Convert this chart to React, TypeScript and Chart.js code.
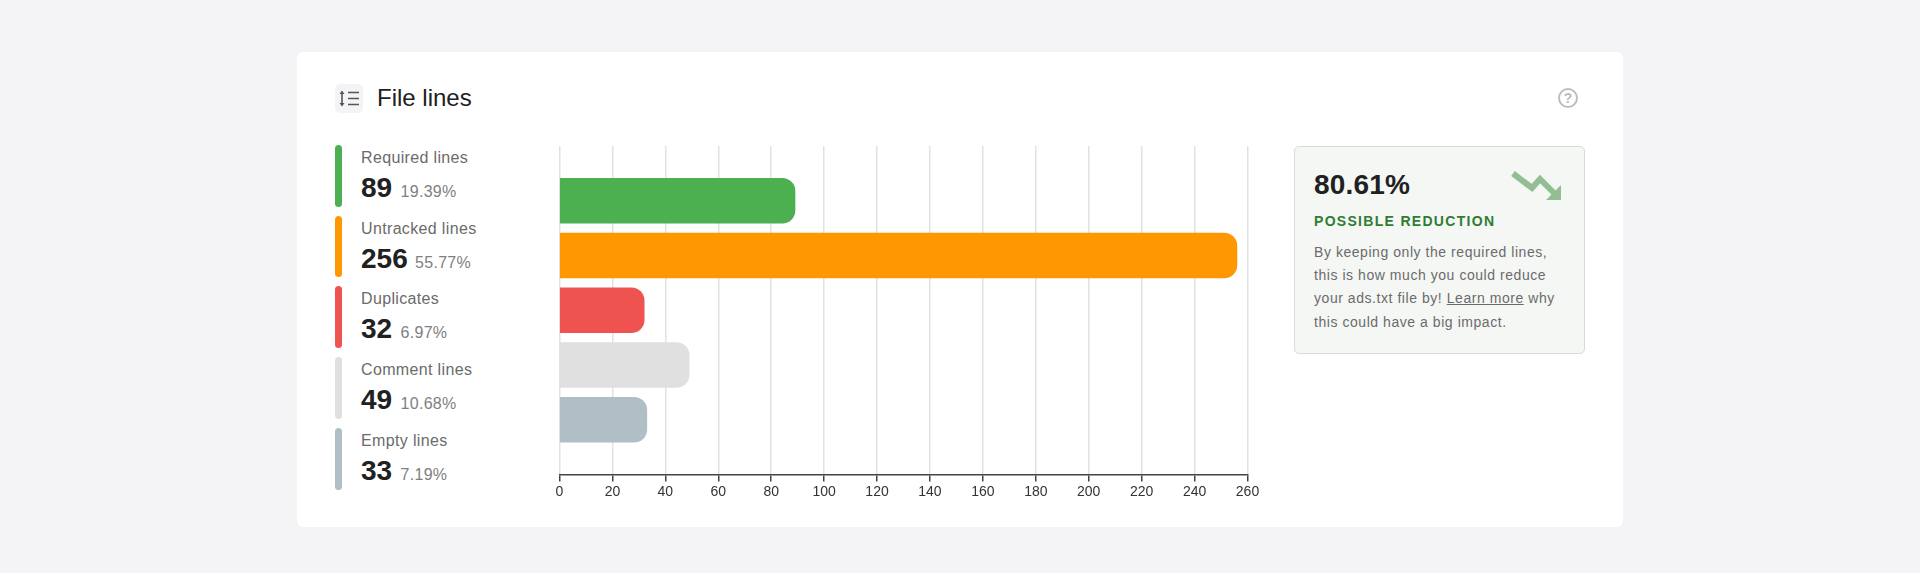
import React, { useEffect, useRef } from "react";
import { Chart, registerables } from "chart.js";

Chart.register(...registerables);

const categories = ["Required lines", "Untracked lines", "Duplicates", "Comment lines", "Empty lines"];
const values = [89, 256, 32, 49, 33];
const percents = ["19.39%", "55.77%", "6.97%", "10.68%", "7.19%"];
const colors = ["#4caf50", "#ff9800", "#ef5350", "#e0e0e0", "#b0bec5"];
const xMax = 260;
const xStep = 20;

const FONT = '"Liberation Sans", Arial, Helvetica, sans-serif';

const abs = (left: number, top: number, extra: React.CSSProperties = {}): React.CSSProperties => ({
  position: "absolute",
  left,
  top,
  whiteSpace: "nowrap",
  ...extra,
});

const legendTops = [145, 215.5, 286, 357, 428];
const bodyLines = [
  <>By keeping only the required lines,</>,
  <>this is how much you could reduce</>,
  <>your ads.txt file by! <span style={{ textDecoration: "underline" }}>Learn more</span> why</>,
  <>this could have a big impact.</>,
];

export default function App() {
  const ref = useRef<HTMLCanvasElement>(null);
  useEffect(() => {
    const chart = new Chart(ref.current as HTMLCanvasElement, {
      type: "bar",
      data: {
        labels: ["", ...categories, " "],
        datasets: [
          {
            data: [null, ...values, null] as any,
            backgroundColor: ["transparent", ...colors, "transparent"],
            barThickness: 45,
            borderRadius: { topLeft: 0, bottomLeft: 0, topRight: 13, bottomRight: 13 },
            borderSkipped: false,
          },
        ],
      },
      options: {
        indexAxis: "y",
        responsive: false,
        animation: false,
        layout: { padding: { left: 39.5, right: 32.5, top: 16, bottom: 0 } },
        plugins: { legend: { display: false }, tooltip: { enabled: false }, title: { display: false } },
        scales: {
          y: { display: false, offset: false, grid: { display: false } },
          x: {
            min: 0,
            max: xMax,
            afterFit: (s: any) => {
              s.height = 45.5;
            },
            ticks: { stepSize: xStep, color: "#333", font: { family: FONT, size: 14 }, maxRotation: 0, autoSkip: false, padding: 2 },
            grid: { color: "#e2e2e2", lineWidth: 1.5, tickColor: "#444", tickLength: 7 },
            border: { color: "#444", width: 1.5 },
          },
        },
      } as any,
    });
    return () => chart.destroy();
  }, []);

  return (
    <div style={{ position: "fixed", inset: 0, width: 1920, height: 573, background: "#f4f4f6", overflow: "hidden", fontFamily: FONT }}>
      <div style={{ position: "absolute", left: 297, top: 52, width: 1326, height: 475, background: "#fff", borderRadius: 6 }} />

      {/* Header */}
      <div style={{ position: "absolute", left: 335, top: 84, width: 28, height: 29, background: "#f4f4f6", borderRadius: 5 }} />
      <svg style={{ position: "absolute", left: 335, top: 84 }} width={28} height={29} viewBox="0 0 28 29">
        <path d="M7 8.5V20.5" stroke="#555" strokeWidth={1.6} />
        <path d="M4.5 10L7 6.5L9.5 10ZM4.5 19L7 22.5L9.5 19Z" fill="#555" />
        <path d="M13 8.5H24M13 14.5H24M13 20.5H24" stroke="#555" strokeWidth={1.6} />
      </svg>
      <div style={abs(377, 84, { fontSize: 24, lineHeight: "28px", color: "#212121" })}>File lines</div>
      <svg style={{ position: "absolute", left: 1557, top: 87 }} width={22} height={22} viewBox="0 0 22 22">
        <circle cx={11} cy={11} r={9} fill="none" stroke="#bdbdbd" strokeWidth={2} />
        <text x={11} y={16} textAnchor="middle" fontSize={14} fontWeight={700} fill="#bdbdbd" fontFamily={FONT}>?</text>
      </svg>

      {/* Legend */}
      {categories.map((c, i) => (
        <React.Fragment key={c}>
          <div style={{ position: "absolute", left: 335, top: legendTops[i], width: 7, height: 61.5, borderRadius: 4, background: colors[i] }} />
          <div style={abs(361, legendTops[i] + 3, { fontSize: 16, lineHeight: "20px", color: "#6b6b6b", letterSpacing: 0.35 })}>{c}</div>
          <div style={abs(361, legendTops[i] + 27, { fontSize: 28, lineHeight: "32px", fontWeight: 700, color: "#212121" })}>{values[i]}</div>
          <div style={abs(361 + (values[i] > 99 ? 54 : 39.5), legendTops[i] + 37, { fontSize: 16, lineHeight: "20px", color: "#808080", letterSpacing: 0.3 })}>{percents[i]}</div>
        </React.Fragment>
      ))}

      {/* Chart */}
      <canvas ref={ref} width={760} height={390} style={{ position: "absolute", left: 520, top: 130, display: "block" }} />

      {/* Insight box */}
      <div style={{ position: "absolute", left: 1294, top: 146, width: 291, height: 208, boxSizing: "border-box", background: "#f5f7f5", border: "1.5px solid #d8dcd8", borderRadius: 5 }} />
      <div style={abs(1314, 168, { fontSize: 28, lineHeight: "34px", fontWeight: 700, color: "#212121", letterSpacing: 0.2 })}>80.61%</div>
      <svg style={{ position: "absolute", left: 1505, top: 165 }} width={64} height={40} viewBox="0 0 64 40">
        <path d="M8 8.5L27 23L35 14L50 29" fill="none" stroke="#93bd93" strokeWidth={6} />
        <path d="M56 20V35H41Z" fill="#93bd93" />
      </svg>
      <div style={abs(1314, 212, { fontSize: 14, lineHeight: "18px", fontWeight: 700, color: "#2e7d32", letterSpacing: 1.3 })}>POSSIBLE REDUCTION</div>
      {bodyLines.map((l, i) => (
        <div key={i} style={abs(1314, 240.5 + i * 23.4, { fontSize: 14, lineHeight: "22px", color: "#6b6b6b", letterSpacing: 0.55 })}>{l}</div>
      ))}
    </div>
  );
}
